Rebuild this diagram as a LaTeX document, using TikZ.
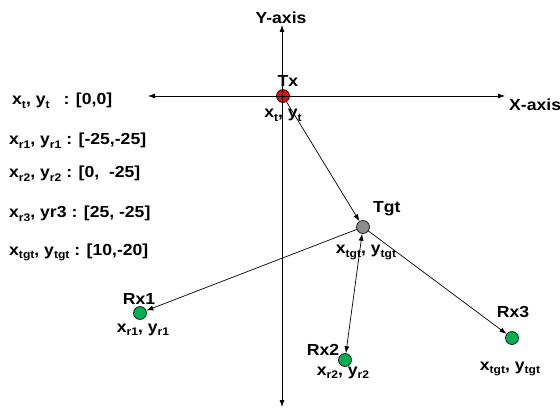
\documentclass[tikz,border=0pt]{standalone}
\usepackage{fontspec}
\setmainfont{Liberation Sans}[FakeStretch=1.1]
\usetikzlibrary{arrows.meta}
\newcommand{\lo}[1]{\raisebox{-0.22em}{\fontsize{11}{11}\selectfont #1}}
\definecolor{ptgreen}{HTML}{00B050}
\definecolor{ptgray}{HTML}{8C8C8C}
\begin{document}
\begin{tikzpicture}[x=1pt,y=-1pt,
  font=\fontsize{16}{16}\selectfont\bfseries,
  lbl/.style={inner sep=0pt, anchor=base},
  lblw/.style={inner sep=0pt, anchor=base west},
  pt/.style={circle, draw=black, line width=0.6pt, minimum size=13pt, inner sep=0pt},
  axis/.style={line width=0.8pt, {Latex[length=7pt,width=5pt]}-{Latex[length=7pt,width=5pt]}},
  conn/.style={line width=0.7pt, -{Latex[length=7pt,width=5pt]}},
  dconn/.style={line width=0.7pt, {Latex[length=7pt,width=5pt]}-{Latex[length=7pt,width=5pt]}}]
\fill[white] (0,0) rectangle (560,409);
\useasboundingbox (0,0) rectangle (560,409);
% points
\node[pt, fill=red] (tx) at (283,96) {};
\node[pt, fill=ptgray] (tgt) at (363,227) {};
\node[pt, fill=ptgreen] (rx1) at (140,313) {};
\node[pt, fill=ptgreen] (rx2) at (345,360) {};
\node[pt, fill=ptgreen] (rx3) at (512,338) {};
% axes
\coordinate (xl) at (148,96);
\coordinate (xr) at (505,96);
\coordinate (yt) at (282,25);
\coordinate (yb) at (282,407);
\draw[axis] (xl) -- (xr);
\draw[axis] (yb) -- (yt);
% connectors
\draw[conn] (tx) -- (tgt);
\draw[conn] (tgt) -- (rx1);
\draw[dconn] (tgt) -- (rx2);
\draw[conn] (tgt) -- (rx3);
% labels
\node[lbl] (ylab) at (281,24) {Y-axis};
\node[lblw] (xlab) at (509,111) {X-axis};
\node[lbl] (txlab) at (288,87) {Tx};
\node[lbl] (txc) at (283,118) {x\lo{t}, y\lo{t}};
\node[lblw] (tgtlab) at (373,212) {Tgt};
\node[lbl] (tgtc) at (366,254) {x\lo{tgt}, y\lo{tgt}};
\node[lbl] (rx1lab) at (139,304) {Rx1};
\node[lbl] (rx1c) at (143,332) {x\lo{r1}, y\lo{r1}};
\node[lbl] (rx2lab) at (323,355) {Rx2};
\node[lbl] (rx2c) at (343,375) {x\lo{r2}, y\lo{r2}};
\node[lbl] (rx3lab) at (513,317) {Rx3};
\node[lbl] (rx3c) at (510,370) {x\lo{tgt}, y\lo{tgt}};
% left table
\node[lblw] (l1) at (12,105) {x\lo{t}, y\lo{t}\hspace{14pt}: [0,0]};
\node[lblw] (l2) at (9,145) {x\lo{r1}, y\lo{r1} : [-25,-25]};
\node[lblw] (l3) at (9,178) {x\lo{r2}, y\lo{r2} : [0,\ \ -25]};
\node[lblw] (l4) at (9,218) {x\lo{r3}, yr3 : [25, -25]};
\node[lblw] (l5) at (9,255) {x\lo{tgt}, y\lo{tgt} : [10,-20]};
\end{tikzpicture}
\end{document}
